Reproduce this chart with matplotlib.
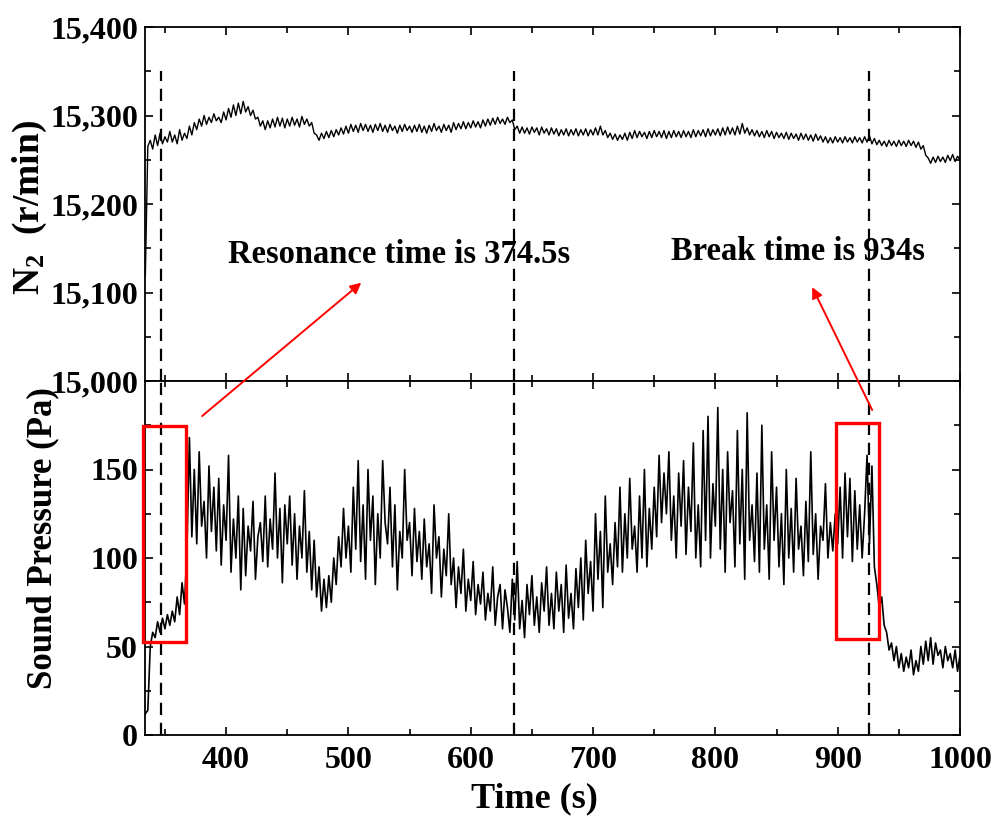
import numpy as np
import matplotlib
matplotlib.use('Agg')
import matplotlib.pyplot as plt
from matplotlib.ticker import MultipleLocator, FuncFormatter
from matplotlib.patches import Rectangle

plt.rcParams['font.family'] = ['Liberation Serif', 'DejaVu Serif']
plt.rcParams['font.weight'] = 'bold'
plt.rcParams['mathtext.fontset'] = 'custom'
plt.rcParams['mathtext.rm'] = 'Liberation Serif:bold'
plt.rcParams['mathtext.bf'] = 'Liberation Serif:bold'
plt.rcParams['mathtext.it'] = 'Liberation Serif:bold:italic'
plt.rcParams['mathtext.default'] = 'rm'

# ---------------- data ----------------
t_start = 334
t_step = 2

sound_pressure = [
    12, 14, 50, 58, 55, 64, 58, 66, 60, 68,
    62, 70, 64, 78, 68, 86, 74, 105, 168, 112,
    150, 108, 160, 118, 132, 100, 152, 115, 140, 104,
    145, 96, 130, 110, 158, 92, 122, 100, 135, 82,
    128, 90, 118, 104, 132, 88, 112, 120, 98, 135,
    95, 122, 105, 148, 100, 128, 86, 130, 108, 135,
    96, 125, 88, 118, 100, 138, 92, 115, 82, 110,
    78, 95, 70, 88, 72, 90, 75, 100, 85, 112,
    95, 128, 100, 118, 92, 140, 105, 155, 98, 130,
    88, 150, 110, 135, 85, 125, 100, 155, 120, 108,
    140, 95, 130, 82, 115, 100, 150, 110, 120, 90,
    128, 98, 115, 88, 122, 95, 108, 80, 130, 100,
    112, 78, 105, 90, 125, 85, 100, 72, 95, 80,
    105, 70, 88, 76, 98, 68, 85, 74, 92, 65,
    80, 70, 95, 62, 78, 85, 60, 82, 72, 58,
    88, 65, 98, 60, 76, 55, 85, 68, 90, 62,
    78, 58, 86, 70, 95, 62, 80, 60, 92, 70,
    85, 58, 96, 66, 80, 60, 94, 72, 100, 65,
    110, 80, 98, 70, 125, 88, 115, 72, 135, 92,
    108, 85, 120, 95, 140, 92, 125, 100, 145, 105,
    118, 92, 135, 100, 150, 95, 128, 105, 140, 112,
    158, 120, 148, 125, 160, 110, 135, 100, 148, 118,
    155, 102, 140, 115, 165, 100, 130, 95, 172, 110,
    180, 100, 142, 118, 185, 105, 150, 92, 160, 120,
    138, 95, 172, 108, 150, 88, 182, 110, 130, 98,
    148, 92, 175, 105, 130, 88, 160, 110, 140, 95,
    125, 85, 150, 100, 128, 92, 145, 105, 118, 90,
    132, 98, 160, 102, 125, 88, 118, 110, 142, 100,
    120, 104, 125, 108, 140, 100, 148, 112, 145, 98,
    138, 105, 130, 100, 125, 158, 108, 152, 95, 85,
    72, 78, 62, 58, 48, 52, 42, 50, 38, 46,
    36, 44, 38, 48, 34, 42, 36, 50, 40, 53,
    42, 55, 40, 52, 45, 48, 38, 50, 42, 46,
    38, 48, 36, 45,
]

n2_speed = [
    15120, 15265, 15272, 15262, 15278, 15266, 15280, 15268, 15276, 15270,
    15282, 15270, 15278, 15268, 15284, 15272, 15280, 15274, 15288, 15278,
    15292, 15284, 15296, 15288, 15300, 15290, 15298, 15292, 15302, 15294,
    15298, 15292, 15304, 15295, 15308, 15298, 15312, 15300, 15314, 15302,
    15316, 15304, 15310, 15300, 15306, 15296, 15298, 15288, 15294, 15284,
    15294, 15286, 15296, 15287, 15298, 15288, 15297, 15286, 15296, 15288,
    15298, 15289, 15296, 15287, 15299, 15290, 15296, 15288, 15292, 15280,
    15278, 15272, 15280, 15274, 15282, 15275, 15283, 15276, 15284, 15278,
    15286, 15279, 15288, 15280, 15290, 15282, 15289, 15281, 15291, 15283,
    15290, 15282, 15289, 15281, 15290, 15283, 15291, 15282, 15289, 15281,
    15290, 15283, 15288, 15280, 15289, 15282, 15290, 15283, 15288, 15281,
    15289, 15282, 15290, 15281, 15288, 15280, 15289, 15282, 15291, 15283,
    15288, 15281, 15290, 15283, 15289, 15281, 15292, 15284, 15291, 15285,
    15293, 15285, 15292, 15286, 15294, 15287, 15293, 15286, 15295, 15288,
    15296, 15289, 15297, 15290, 15298, 15291, 15296, 15290, 15298, 15292,
    15295, 15284, 15288, 15280, 15287, 15280, 15286, 15279, 15287, 15281,
    15286, 15278, 15287, 15280, 15285, 15278, 15286, 15279, 15285, 15277,
    15284, 15278, 15285, 15277, 15284, 15278, 15285, 15277, 15284, 15278,
    15285, 15277, 15284, 15278, 15286, 15278, 15288, 15278, 15283, 15275,
    15280, 15273, 15279, 15272, 15278, 15273, 15280, 15272, 15281, 15274,
    15283, 15275, 15282, 15276, 15281, 15274, 15282, 15275, 15283, 15276,
    15282, 15275, 15283, 15274, 15282, 15275, 15283, 15276, 15282, 15275,
    15283, 15276, 15282, 15275, 15284, 15276, 15283, 15277, 15284, 15276,
    15285, 15277, 15284, 15278, 15285, 15277, 15286, 15278, 15287, 15279,
    15286, 15278, 15288, 15279, 15291, 15280, 15286, 15278, 15284, 15277,
    15283, 15276, 15282, 15275, 15283, 15276, 15282, 15274, 15281, 15275,
    15280, 15274, 15281, 15273, 15280, 15274, 15279, 15272, 15280, 15273,
    15279, 15272, 15278, 15271, 15279, 15272, 15277, 15270, 15276, 15269,
    15275, 15269, 15276, 15270, 15275, 15269, 15276, 15270, 15275, 15269,
    15276, 15270, 15275, 15269, 15276, 15270, 15277, 15268, 15274, 15267,
    15272, 15266, 15271, 15265, 15272, 15266, 15271, 15265, 15272, 15266,
    15271, 15265, 15272, 15266, 15271, 15264, 15270, 15262, 15266, 15255,
    15252, 15246, 15253, 15247, 15254, 15248, 15253, 15247, 15255, 15249,
    15256, 15248, 15254, 15250,
]

event_times = [347, 635, 926]
boxes = [(332.0, 52.5, 367.5, 174.5), (899.0, 54.5, 934.0, 176.0)]
labels_text = ["Resonance time is 374.5s", "Break time is 934s"]

time_sp = t_start + t_step * np.arange(len(sound_pressure))
time_n2 = t_start + t_step * np.arange(len(n2_speed))

# ---------------- figure ----------------
fig = plt.figure(figsize=(10.02, 8.25), dpi=100)
L, R = 145 / 1002, 960 / 1002
ax1 = fig.add_axes([L, (825 - 381) / 825, R - L, 354 / 825])
ax2 = fig.add_axes([L, (825 - 735) / 825, R - L, 354 / 825])

ax1.plot(time_n2, n2_speed, color='black', lw=1.0)
ax2.plot(time_sp, sound_pressure, color='black', lw=1.2)

for ax in (ax1, ax2):
    ax.set_xlim(333.7, 1000)
    ax.xaxis.set_major_locator(MultipleLocator(100))
    ax.xaxis.set_minor_locator(MultipleLocator(50))
    ax.tick_params(which='both', direction='in', top=True, right=True,
                   labelsize=23, width=1.2)
    ax.tick_params(which='major', length=6)
    ax.tick_params(which='minor', length=4)
    ax.tick_params(axis='x', pad=8)
    ax.tick_params(axis='y', pad=5)
    for s in ax.spines.values():
        s.set_linewidth(1.3)

ax1.set_ylim(15000, 15400)
ax1.yaxis.set_major_locator(MultipleLocator(100))
ax1.yaxis.set_minor_locator(MultipleLocator(50))
ax1.yaxis.set_major_formatter(FuncFormatter(lambda v, p: f"{v:,.0f}"))
ax1.tick_params(axis='x', labelbottom=False)

ax2.set_ylim(0, 200)
ax2.set_yticks([0, 50, 100, 150])
ax2.yaxis.set_minor_locator(MultipleLocator(25))

ax1.set_ylabel(r'N$_\mathregular{2}$  (r/min)', fontsize=27, fontweight='bold')
ax1.yaxis.set_label_coords(-0.118, 0.49)
ax2.set_ylabel('Sound Pressure (Pa)', fontsize=25, fontweight='bold')
ax2.yaxis.set_label_coords(-0.105, 0.556)
ax2.set_xlabel('Time (s)', fontsize=26, fontweight='bold')
ax2.xaxis.set_label_coords(0.478, -0.135)

# dashed event lines
for tv in event_times:
    ax1.axvline(tv, ymin=0, ymax=0.877, color='black', lw=1.6, dashes=(5.5, 3.5))
    ax2.axvline(tv, color='black', lw=1.6, dashes=(5.5, 3.5))

# red boxes
for (x0, y0, x1, y1) in boxes:
    ax2.add_patch(Rectangle((x0, y0), x1 - x0, y1 - y0, fill=False,
                            edgecolor='red', lw=2.4, clip_on=False, zorder=5))

# arrows from boxes to text
ax2.annotate('', xy=(510.5, 15111), xycoords=ax1.transData,
             xytext=(380.4, 180.2), textcoords=ax2.transData,
             arrowprops=dict(arrowstyle='-|>', color='red', lw=1.4,
                             mutation_scale=16, shrinkA=0, shrinkB=0),
             annotation_clip=False)
ax2.annotate('', xy=(879.2, 15106), xycoords=ax1.transData,
             xytext=(928.2, 183.6), textcoords=ax2.transData,
             arrowprops=dict(arrowstyle='-|>', color='red', lw=1.4,
                             mutation_scale=16, shrinkA=0, shrinkB=0),
             annotation_clip=False)

ax1.text(401.5, 15133, labels_text[0], fontsize=23.5, fontweight='bold',
         ha='left', va='baseline')
ax1.text(763.5, 15137, labels_text[1], fontsize=23.5, fontweight='bold',
         ha='left', va='baseline')

fig.savefig('out.png', dpi=100)
